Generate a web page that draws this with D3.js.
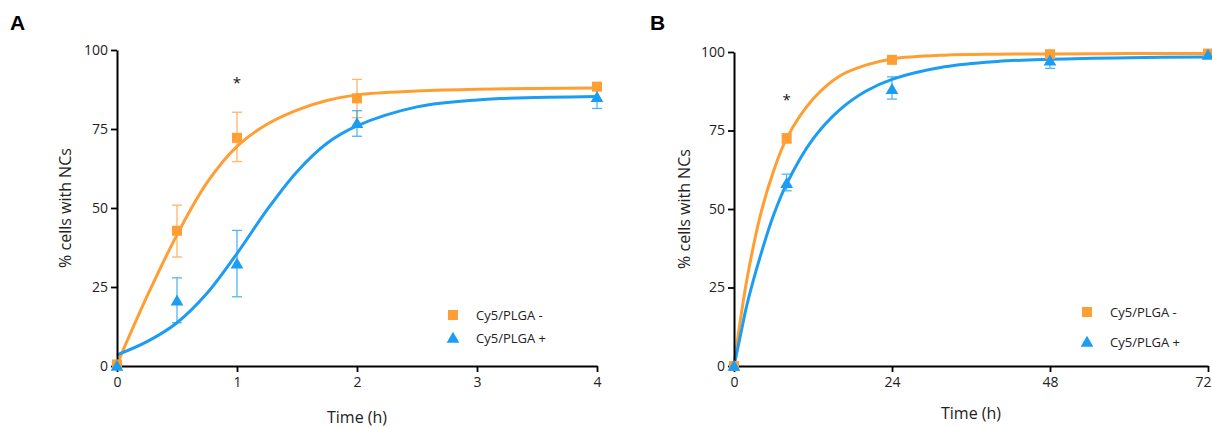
<!DOCTYPE html>
<html>
<head>
<meta charset="utf-8">
<script src="https://cdn.jsdelivr.net/npm/d3@7"></script>
<style>
  body { margin: 0; background: #fff; }
  svg text { font-family: "Open Sans", "DejaVu Sans", sans-serif; }
</style>
</head>
<body>
<svg id="chart" width="1212" height="427"></svg>
<script>
// panel A: measured points (time in h, % cells)
var timesA = [0, 0.5, 1, 2, 4];
var negA = [0.5, 42.8, 72.2, 84.7, 88.4];
var negLoA = [0, 34.5, 64.7, 78.6, 87.4];
var negHiA = [1, 50.9, 80.3, 90.7, 89.4];
var posA = [0, 20.6, 32.3, 76.8, 85.0];
var posLoA = [0, 13.7, 21.9, 72.7, 81.5];
var posHiA = [0.5, 27.9, 42.9, 80.8, 87.3];

// panel A: fitted curves
var fitTimesA = [0, 0.25, 0.5, 0.75, 1, 1.25, 1.5, 1.75, 2, 2.5, 3, 4];
var fitNegA = [0.5, 22, 41.5, 58, 69.5, 76.5, 81, 84, 85.8, 87, 87.6, 88];
var fitPosA = [3.5, 7.7, 13.7, 23, 35.6, 49.4, 61.5, 70.5, 76, 82, 84.2, 85.3];

// panel B
var timesB = [0, 8, 24, 48, 72];
var negB = [0, 72.5, 97.5, 99.3, 99.5];
var negLoB = [0, 71, 96.8, 98.7, 99];
var negHiB = [0.5, 74, 98.3, 99.8, 100];
var posB = [0, 58.2, 88.1, 97.2, 99];
var posLoB = [0, 55.8, 85, 94.8, 98.3];
var posHiB = [0.5, 61.1, 92.1, 98.4, 99.6];

var fitTimesB = [0, 1, 2, 4, 6, 8, 12, 16, 20, 24, 32, 40, 48, 60, 72];
var fitNegB = [0, 15, 28, 48, 62, 72.5, 85, 92.3, 95.8, 97.8, 99, 99.3, 99.4, 99.5, 99.5];
var fitPosB = [0, 10, 19.8, 35, 48, 58, 72.3, 81.5, 87.5, 91.3, 95.3, 97, 97.7, 98.2, 98.4];

var yTicks = [0, 25, 50, 75, 100];
var xTicksA = [0, 1, 2, 3, 4];
var xTicksB = [0, 24, 48, 72];
var seriesNames = ["Cy5/PLGA -", "Cy5/PLGA +"];

var orange = "#FF9E33";
var blue = "#1A9DF2";

var svg = d3.select("#chart");

function panel(o) {
  var x = d3.scaleLinear().domain(o.xDomain).range([o.left, o.right]);
  var y = d3.scaleLinear().domain([0, 100]).range([o.bottom, o.top]);
  var g = svg.append("g");

  // curves
  var line = d3.line().x(function(d) { return x(d[0]); }).y(function(d) { return y(d[1]); })
    .curve(d3.curveCatmullRom.alpha(0.5));
  g.append("path").datum(d3.zip(o.fitT, o.fitNeg))
    .attr("d", line).attr("fill", "none").attr("stroke", orange).attr("stroke-width", 3);
  g.append("path").datum(d3.zip(o.fitT, o.fitPos))
    .attr("d", line).attr("fill", "none").attr("stroke", blue).attr("stroke-width", 3);

  // error bars
  function errBars(vals, lo, hi, col) {
    var eb = g.append("g").attr("stroke", col).attr("stroke-width", 1.3).attr("opacity", 0.75);
    o.t.forEach(function(t, i) {
      if (hi[i] - lo[i] < 1.2) return;
      var cx = x(t);
      eb.append("line").attr("x1", cx).attr("x2", cx).attr("y1", y(lo[i])).attr("y2", y(hi[i]));
      eb.append("line").attr("x1", cx - 5).attr("x2", cx + 5).attr("y1", y(lo[i])).attr("y2", y(lo[i]));
      eb.append("line").attr("x1", cx - 5).attr("x2", cx + 5).attr("y1", y(hi[i])).attr("y2", y(hi[i]));
    });
  }
  errBars(o.neg, o.negLo, o.negHi, orange);
  errBars(o.pos, o.posLo, o.posHi, blue);

  // axes
  var yAxis = g.append("g").attr("transform", "translate(" + o.left + ",0)")
    .call(d3.axisLeft(y).tickValues(yTicks).tickSize(6).tickSizeOuter(0).tickPadding(3));
  var xAxis = g.append("g").attr("transform", "translate(0," + o.bottom + ")")
    .call(d3.axisBottom(x).tickValues(o.xTicks).tickFormat(d3.format("d"))
      .tickSize(6).tickSizeOuter(0).tickPadding(5));
  [yAxis, xAxis].forEach(function(a) {
    a.select(".domain").attr("stroke", "#000").attr("stroke-width", 2);
    a.selectAll(".tick line").attr("stroke", "#000").attr("stroke-width", 1.8);
    a.selectAll(".tick text").attr("font-size", 14).attr("fill", "#222")
      .style("font-family", "'Open Sans', sans-serif");
  });
  // the last label of panel B sits on the page edge: keep it inside
  if (o.clipLast) {
    xAxis.selectAll(".tick text").filter(function(d) { return d === o.xDomain[1]; })
      .attr("text-anchor", "end").attr("dx", 1212 - o.right - 1);
  }

  // markers
  var sq = d3.symbol().type(d3.symbolSquare).size(100);
  var tri = d3.symbol().type(d3.symbolTriangle).size(70);
  g.selectAll(".sq").data(d3.zip(o.t, o.neg)).enter().append("path")
    .attr("d", sq).attr("fill", orange)
    .attr("transform", function(d) { return "translate(" + x(d[0]) + "," + y(d[1]) + ")"; });
  g.selectAll(".tri").data(d3.zip(o.t, o.pos)).enter().append("path")
    .attr("d", tri).attr("fill", blue)
    .attr("transform", function(d) { return "translate(" + x(d[0]) + "," + (y(d[1]) + 1) + ")"; });

  // significance star
  g.append("text").attr("x", x(o.starT)).attr("y", y(o.starY))
    .attr("text-anchor", "middle").attr("font-size", 15).attr("fill", "#111").text("*");

  // labels
  g.append("text").attr("x", (o.left + o.right) / 2 + o.xLabDx).attr("y", o.xLabY)
    .attr("text-anchor", "middle").attr("font-size", 16).attr("fill", "#222").text("Time (h)");
  g.append("text").attr("transform", "translate(" + o.yLabX + "," + (o.top + o.bottom) / 2 + ") rotate(-90)")
    .attr("text-anchor", "middle").attr("font-size", 16).attr("fill", "#222").text("% cells with NCs");
  g.append("text").attr("x", o.letterX).attr("y", 30).attr("font-size", 21).attr("font-weight", "bold")
    .style("font-family", "'Liberation Sans', Arial, sans-serif").text(o.letter);

  // legend
  var lg = g.append("g").attr("transform", "translate(" + o.legX + "," + o.legY + ")");
  lg.append("path").attr("d", sq).attr("fill", orange);
  lg.append("path").attr("d", tri).attr("fill", blue).attr("transform", "translate(0," + (o.legGap + 1) + ")");
  lg.append("text").attr("x", o.legTextDx).attr("y", 4.5).attr("font-size", 13).attr("fill", "#222").text(seriesNames[0]);
  lg.append("text").attr("x", o.legTextDx).attr("y", o.legGap + 4.5).attr("font-size", 13).attr("fill", "#222").text(seriesNames[1]);
}

panel({
  letter: "A", letterX: 10,
  xDomain: [0, 4], left: 117, right: 597, top: 50, bottom: 366,
  xTicks: xTicksA,
  t: timesA, neg: negA, negLo: negLoA, negHi: negHiA, pos: posA, posLo: posLoA, posHi: posHiA,
  fitT: fitTimesA, fitNeg: fitNegA, fitPos: fitPosA,
  starT: 1, starY: 88,
  xLabDx: 0, xLabY: 423, yLabX: 71,
  legX: 453, legY: 315, legGap: 23, legTextDx: 23
});

panel({
  letter: "B", letterX: 650,
  xDomain: [0, 72], left: 734, right: 1208, top: 52, bottom: 366,
  xTicks: xTicksB, clipLast: true,
  t: timesB, neg: negB, negLo: negLoB, negHi: negHiB, pos: posB, posLo: posLoB, posHi: posHiB,
  fitT: fitTimesB, fitNeg: fitNegB, fitPos: fitPosB,
  starT: 8, starY: 83,
  xLabDx: 0, xLabY: 419, yLabX: 690,
  legX: 1087, legY: 312, legGap: 30, legTextDx: 23
});
</script>
</body>
</html>
